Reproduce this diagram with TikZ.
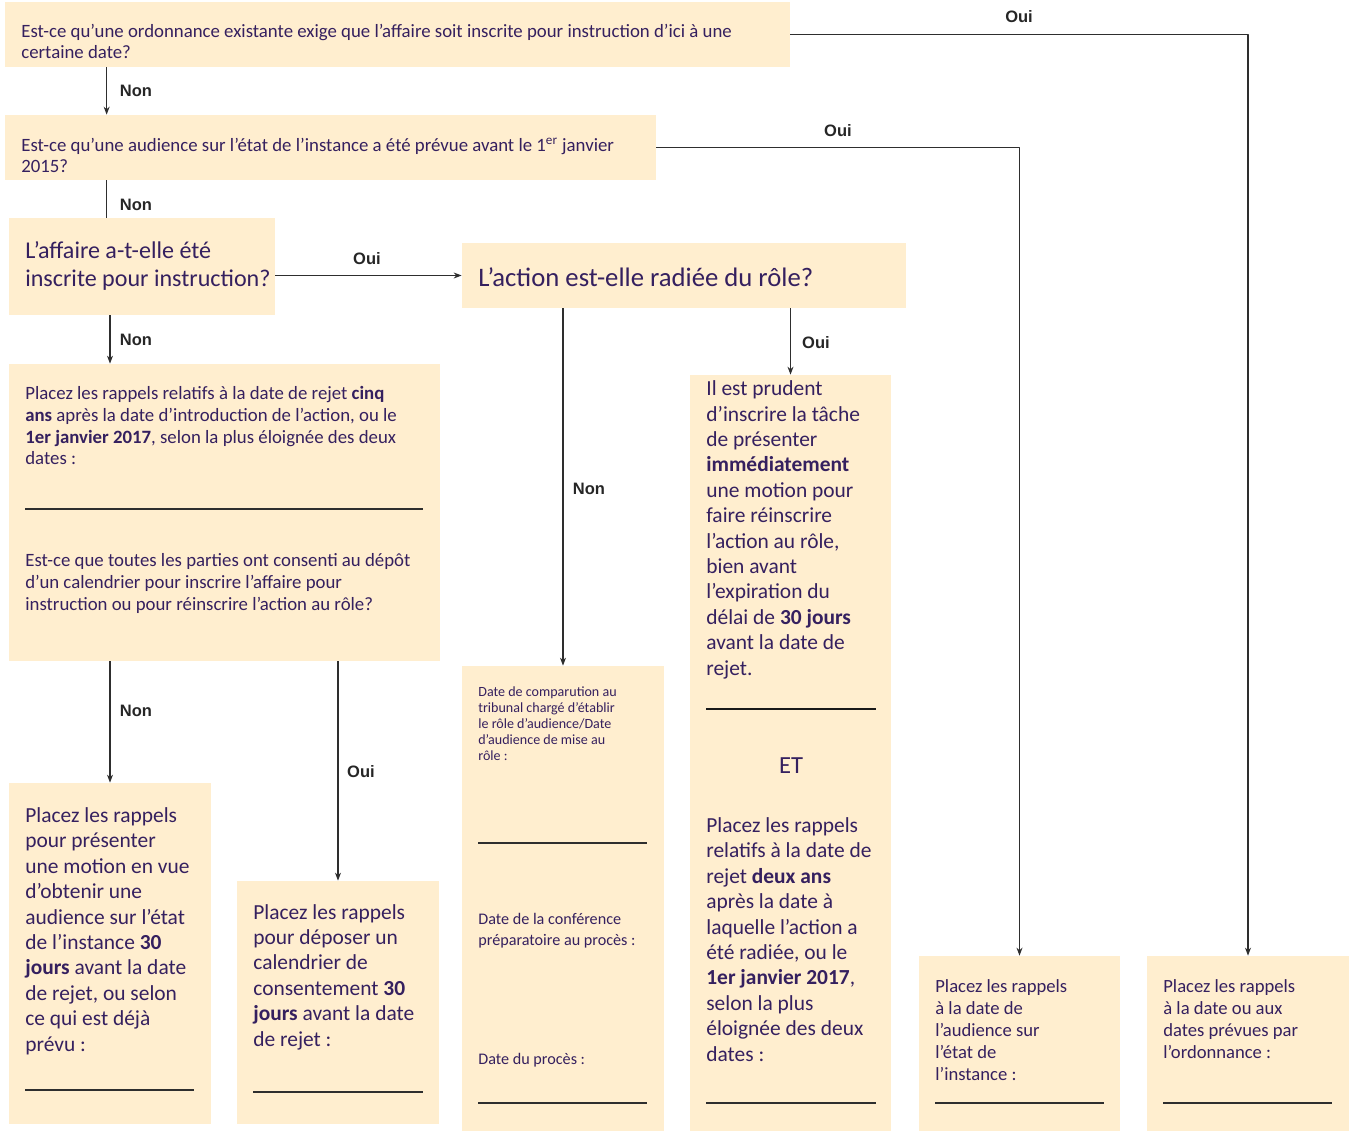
\documentclass[tikz,border=0pt]{standalone}
\usepackage{fontspec}
\setmainfont{Carlito}
\newfontfamily\lblfont{Liberation Sans}
\usetikzlibrary{calc,fit,arrows.meta}
\definecolor{creme}{HTML}{FFEECF}
\definecolor{encre}{HTML}{35205F}
\definecolor{trait}{HTML}{2E2E2E}

\begin{document}
\begin{tikzpicture}[x=0.02cm, y=-0.02cm, line join=round, >={Stealth[length=1.6mm,width=1.2mm]}]
	\tikzset{
		boite/.style={fill=creme, draw=none, inner sep=0pt},
		txt/.style={anchor=base west, inner sep=0pt, align=left, text=encre},
		moyen/.style={font=\fontsize{10.7}{12.5}\selectfont},
		grand/.style={font=\fontsize{13.7}{16.4}\selectfont},
		corps/.style={font=\fontsize{12.2}{14.45}\selectfont},
		menu/.style={font=\fontsize{8}{9.1}\selectfont},
		lbl/.style={font=\lblfont\bfseries\fontsize{9.4}{11}\selectfont, text=black!85, inner sep=0pt},
		fleche/.style={->, draw=trait, line width=.65pt},
		regle/.style={draw=trait, line width=.8pt}
	}
	\useasboundingbox (0,0) rectangle (1349,1131);
	% boites
	\node[boite, fit={(5,2) (790,67)}] (qA) {};
	\node[boite, fit={(5,115) (656,180)}] (qB) {};
	\node[boite, fit={(9,218) (275,315)}] (qC) {};
	\node[boite, fit={(462,243) (906,308)}] (qD) {};
	\node[boite, fit={(9,364) (440,661)}] (qE) {};
	\node[boite, fit={(9,783) (211,1124)}] (qF) {};
	\node[boite, fit={(237,881) (439,1124)}] (qG) {};
	\node[boite, fit={(462,666) (664,1131)}] (qH) {};
	\node[boite, fit={(690,375) (891,1131)}] (qI) {};
	\node[boite, fit={(919,956) (1120,1131)}] (qJ) {};
	\node[boite, fit={(1147,956) (1349,1131)}] (qK) {};
	% textes (base = derniere ligne)
	\node[txt, moyen] (tA) at (21,59) {Est-ce qu’une ordonnance existante exige que l’affaire soit inscrite pour instruction d’ici à une\\certaine date?};
	\node[txt, moyen] (tB) at (21,173) {Est-ce qu’une audience sur l’état de l’instance a été prévue avant le 1\textsuperscript{er} janvier\\2015?};
	\node[txt, grand] (tC) at (25,287) {L’affaire a-t-elle été\\inscrite pour instruction?};
	\node[txt, font=\fontsize{15.2}{18}\selectfont] (tD) at (478,287) {L’action est-elle radiée du rôle?};
	\node[txt, moyen] (tE) at (25,465) {Placez les rappels relatifs à la date de rejet \textbf{cinq}\\\textbf{ans} après la date d’introduction de l’action, ou le\\\textbf{1er janvier 2017}, selon la plus éloignée des deux\\dates :};
	\node[txt, moyen] (tE2) at (25,610) {Est-ce que toutes les parties ont consenti au dépôt\\d’un calendrier pour inscrire l’affaire pour\\instruction ou pour réinscrire l’action au rôle?};
	\node[txt, corps] (tF) at (25,1051) {Placez les rappels\\pour présenter\\une motion en vue\\d’obtenir une\\audience sur l’état\\de l’instance \textbf{30}\\\textbf{jours} avant la date\\de rejet, ou selon\\ce qui est déjà\\prévu :};
	\node[txt, corps] (tG) at (253,1046) {Placez les rappels\\pour déposer un\\calendrier de\\consentement \textbf{30}\\\textbf{jours} avant la date\\de rejet :};
	\node[txt, menu] (tH) at (478,760) {Date de comparution au\\tribunal chargé d'établir\\le rôle d'audience/Date\\d’audience de mise au\\rôle :};
	\node[txt, font=\fontsize{9.2}{11.9}\selectfont] (tH2) at (478,945) {Date de la conférence\\préparatoire au procès :};
	\node[txt, font=\fontsize{9.2}{11.9}\selectfont] (tH3) at (478,1064) {Date du procès :};
	\node[txt, corps] (tI) at (706,675) {Il est prudent\\d’inscrire la tâche\\de présenter\\\textbf{immédiatement}\\une motion pour\\faire réinscrire\\l’action au rôle,\\bien avant\\l’expiration du\\délai de \textbf{30 jours}\\avant la date de\\rejet.};
	\node[text=encre, font=\fontsize{14}{16}\selectfont, inner sep=0pt] (tET) at (791,766) {ET};
	\node[txt, corps] (tI2) at (706,1061) {Placez les rappels\\relatifs à la date de\\rejet \textbf{deux ans}\\après la date à\\laquelle l’action a\\été radiée, ou le\\\textbf{1er janvier 2017},\\selon la plus\\éloignée des deux\\dates :};
	\node[txt, font=\fontsize{10.6}{12.5}\selectfont] (tJ) at (935,1080) {Placez les rappels\\à la date de\\l’audience sur\\l’état de\\l’instance :};
	\node[txt, font=\fontsize{10.6}{12.5}\selectfont] (tK) at (1163,1058) {Placez les rappels\\à la date ou aux\\dates prévues par\\l’ordonnance :};
	% lignes a remplir
	\draw[regle] (25,509) -- (423,509);
	\draw[regle] (25,1090) -- (194,1090);
	\draw[regle] (253,1092) -- (423,1092);
	\draw[regle] (478,843) -- (647,843);
	\draw[regle] (478,1103) -- (647,1103);
	\draw[regle, line width=1.1pt, draw=black!90] (706,709) -- (876,709);
	\draw[regle] (706,1103) -- (876,1103);
	\draw[regle] (935,1103) -- (1104,1103);
	\draw[regle] (1163,1103) -- (1332,1103);
	% fleches
	\draw[fleche] ($(qA.south west)+(102,0)$) coordinate (n1) -- (n1 |- qB.north);
	\draw[fleche, -] ($(qB.south west)+(102,0)$) coordinate (n2) -- (n2 |- qC.north);
	\draw[fleche] (qC.east |- qD.west) -- (qD.west);
	\draw[fleche] (qF.north |- qC.south) -- (qF.north |- qE.north);
	\draw[fleche] (qF.north |- qE.south) -- (qF.north);
	\draw[fleche] (qG.north |- qE.south) -- (qG.north);
	\draw[fleche] (qH.north |- qD.south) -- (qH.north);
	\draw[fleche] (qI.north |- qD.south) -- (qI.north);
	\draw[fleche] (qB.east) -| (qJ.north);
	\draw[fleche] (qA.east) -| (qK.north);
	% etiquettes
	\node[lbl] (lN1) at (136,91) {Non};
	\node[lbl] (lN2) at (136,205) {Non};
	\node[lbl] (lN3) at (136,340) {Non};
	\node[lbl] (lN4) at (136,711) {Non};
	\node[lbl] (lN5) at (589,489) {Non};
	\node[lbl] (lO1) at (1019,17) {Oui};
	\node[lbl] (lO2) at (838,131) {Oui};
	\node[lbl] (lO3) at (367,259) {Oui};
	\node[lbl] (lO4) at (816,343) {Oui};
	\node[lbl] (lO5) at (361,772) {Oui};
\end{tikzpicture}
\end{document}
